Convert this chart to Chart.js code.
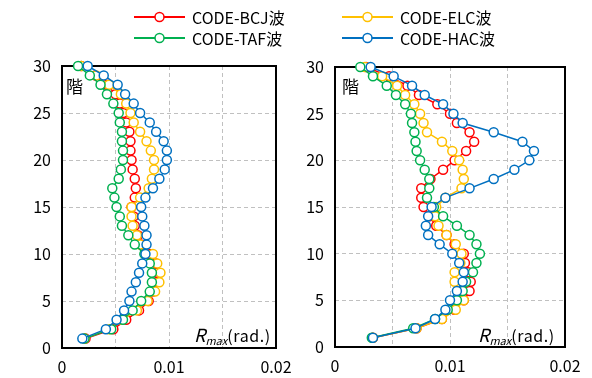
<!DOCTYPE html>
<html>
<head>
<meta charset="utf-8">
<script src="https://cdn.jsdelivr.net/npm/chart.js@4.4.1/dist/chart.umd.min.js"></script>
<style>
html,body{margin:0;padding:0;background:#fff;width:592px;height:378px;overflow:hidden;}
#wrap{position:relative;width:592px;height:378px;font-family:"Noto Sans CJK JP","Noto Sans",sans-serif;color:#000;}
canvas{position:absolute;top:0;}
.leg{position:absolute;height:20px;line-height:20px;font-size:16px;white-space:nowrap;}
.leg svg{position:absolute;left:0;top:4px;}
.leg span{position:absolute;top:0;}
.kai{position:absolute;font-size:17px;line-height:17px;}
.rmax{position:absolute;font-size:16px;line-height:18px;white-space:nowrap;letter-spacing:0.6px;}
.rmax i{font-style:italic;font-size:18px;letter-spacing:0;}
.rmax sub{font-style:italic;font-size:11px;vertical-align:-3px;letter-spacing:0;}
</style>
</head>
<body>
<div id="wrap">
  <canvas id="cL" width="320" height="378" style="left:0;width:320px;height:378px;"></canvas>
  <canvas id="cR" width="296" height="378" style="left:296px;width:296px;height:378px;"></canvas>
  <div id="legend"></div>
  <div class="kai" style="left:66px;top:77px;">階</div>
  <div class="kai" style="left:342px;top:77px;">階</div>
  <div class="rmax" style="left:194px;top:325px;"><i>R</i><sub>max</sub>(rad.)</div>
  <div class="rmax" style="left:478px;top:325px;"><i>R</i><sub>max</sub>(rad.)</div>
</div>
<script>
// ---- data ----
const floors = [1,2,3,4,5,6,7,8,9,10,11,12,13,14,15,16,17,18,19,20,21,22,23,24,25,26,27,28,29,30];
const seriesNames = ['CODE-BCJ波','CODE-ELC波','CODE-TAF波','CODE-HAC波'];
const xTickLabels = ['0','0.01','0.02'];
const yTickLabels = ['0','5','10','15','20','25','30'];

// left panel
const leftBCJ = [0.0022,0.0048,0.0060,0.0072,0.0081,0.0085,0.0088,0.0089,0.0088,0.0082,0.0074,0.0071,0.0068,0.0067,0.0065,0.0068,0.0069,0.0068,0.0066,0.0065,0.0064,0.0064,0.0063,0.0060,0.0057,0.0054,0.0050,0.0042,0.0031,0.0018];
const leftELC = [0.0021,0.0044,0.0056,0.0070,0.0080,0.0087,0.0091,0.0092,0.0089,0.0085,0.0073,0.0070,0.0066,0.0065,0.0065,0.0073,0.0081,0.0084,0.0086,0.0086,0.0083,0.0079,0.0073,0.0067,0.0064,0.0060,0.0055,0.0044,0.0032,0.0018];
const leftTAF = [0.0021,0.0046,0.0057,0.0066,0.0074,0.0082,0.0084,0.0084,0.0082,0.0077,0.0068,0.0062,0.0056,0.0054,0.0051,0.0049,0.0047,0.0053,0.0055,0.0057,0.0057,0.0056,0.0056,0.0054,0.0053,0.0048,0.0042,0.0036,0.0026,0.0015];
const leftHAC = [0.0019,0.0041,0.0051,0.0058,0.0063,0.0065,0.0069,0.0072,0.0075,0.0078,0.0079,0.0079,0.0077,0.0075,0.0074,0.0078,0.0085,0.0091,0.0096,0.0098,0.0098,0.0095,0.0088,0.0082,0.0073,0.0067,0.0059,0.0052,0.0039,0.0024];

// right panel
const rightBCJ = [0.0033,0.0071,0.0093,0.0104,0.0112,0.0117,0.0118,0.0116,0.0113,0.0112,0.0104,0.0097,0.0088,0.0082,0.0077,0.0075,0.0075,0.0083,0.0094,0.0104,0.0114,0.0121,0.0117,0.0106,0.0100,0.0089,0.0073,0.0063,0.0047,0.0027];
const rightELC = [0.0033,0.0071,0.0093,0.0105,0.0112,0.0107,0.0104,0.0104,0.0109,0.0110,0.0105,0.0097,0.0090,0.0087,0.0088,0.0096,0.0110,0.0112,0.0111,0.0108,0.0102,0.0093,0.0080,0.0077,0.0074,0.0069,0.0061,0.0054,0.0041,0.0026];
const rightTAF = [0.0032,0.0068,0.0087,0.0098,0.0106,0.0111,0.0114,0.0120,0.0123,0.0126,0.0123,0.0117,0.0106,0.0094,0.0086,0.0080,0.0082,0.0082,0.0078,0.0074,0.0071,0.0070,0.0069,0.0067,0.0066,0.0061,0.0053,0.0045,0.0033,0.0022];
const rightHAC = [0.0033,0.0070,0.0087,0.0096,0.0100,0.0106,0.0111,0.0112,0.0108,0.0102,0.0091,0.0081,0.0079,0.0081,0.0084,0.0096,0.0117,0.0138,0.0156,0.0169,0.0173,0.0163,0.0138,0.0111,0.0103,0.0094,0.0078,0.0067,0.0051,0.0031];

// ---- styles ----
const colors = ['#FF0000','#FFC000','#00B050','#0070C0'];
const drawOrder = [4,3,2,1];
const FONT = '"Noto Sans CJK JP","Noto Sans",sans-serif';

// ---- legend (HTML) ----
const legendPos = [[134,7],[342,7],[134,28],[342,28]];
const legendEl = document.getElementById('legend');
seriesNames.forEach((name,i)=>{
  const d = document.createElement('div');
  d.className = 'leg';
  d.style.left = legendPos[i][0]+'px';
  d.style.top = legendPos[i][1]+'px';
  d.innerHTML = '<svg width="52" height="12"><line x1="0" y1="6" x2="51" y2="6" stroke="'+colors[i]+'" stroke-width="2"/>'+
    '<circle cx="25.5" cy="6" r="4.5" fill="#fff" stroke="'+colors[i]+'" stroke-width="1.5"/></svg>'+
    '<span style="left:58px;">'+name+'</span>';
  legendEl.appendChild(d);
});

const boxPlugin = {
  id:'box',
  beforeDatasetsDraw(chart){
    const {ctx, chartArea:a} = chart;
    ctx.save();
    ctx.strokeStyle = '#000';
    ctx.lineWidth = 2;
    ctx.strokeRect(a.left, a.top, a.right-a.left, a.bottom-a.top);
    ctx.restore();
  }
};

function makeChart(id, vals, geo){
  const datasets = vals.map((v,i)=>({
    label: seriesNames[i],
    data: floors.map((f,k)=>({x:v[k], y:f})),
    borderColor: colors[i],
    backgroundColor: '#fff',
    pointBackgroundColor: '#fff',
    pointBorderColor: colors[i],
    pointRadius: 4.5,
    pointBorderWidth: 1.5,
    borderWidth: 1.5,
    tension: 0,
    clip: false,
    order: drawOrder[i]
  }));
  return new Chart(document.getElementById(id), {
    type:'line',
    data:{datasets},
    plugins:[boxPlugin],
    options:{
      responsive:false,
      animation:false,
      layout:{padding:{top:geo.top, right:geo.right, left:0, bottom:0}},
      plugins:{legend:{display:false}, tooltip:{enabled:false}},
      scales:{
        x:{
          type:'linear', min:0, max:0.02,
          afterFit(s){ s.height = geo.xh; },
          afterBuildTicks(s){ s.ticks = [0,0.005,0.01,0.015,0.02].map(v=>({value:v})); },
          ticks:{
            autoSkip:false, maxRotation:0, padding:9, color:'#000',
            font:{family:FONT, size:16},
            callback:(v,i)=> (i%2===0 ? xTickLabels[i/2] : '')
          },
          grid:{color:'#c0c0c0', lineWidth:1, drawTicks:false},
          border:{display:false, dash:[4,3]}
        },
        y:{
          type:'linear', min:0, max:30,
          afterFit(s){ s.width = geo.yw; },
          afterBuildTicks(s){ s.ticks = [0,5,10,15,20,25,30].map(v=>({value:v})); },
          ticks:{
            autoSkip:false, padding:11, color:'#000',
            font:{family:FONT, size:16},
            callback:(v,i)=> yTickLabels[i]
          },
          grid:{color:'#c0c0c0', lineWidth:1, drawTicks:false},
          border:{display:false, dash:[4,3]}
        }
      }
    }
  });
}

makeChart('cL', [leftBCJ,leftELC,leftTAF,leftHAC], {top:66, right:44, yw:62, xh:30});
makeChart('cR', [rightBCJ,rightELC,rightTAF,rightHAC], {top:67, right:27, yw:39, xh:31});
</script>
</body>
</html>
